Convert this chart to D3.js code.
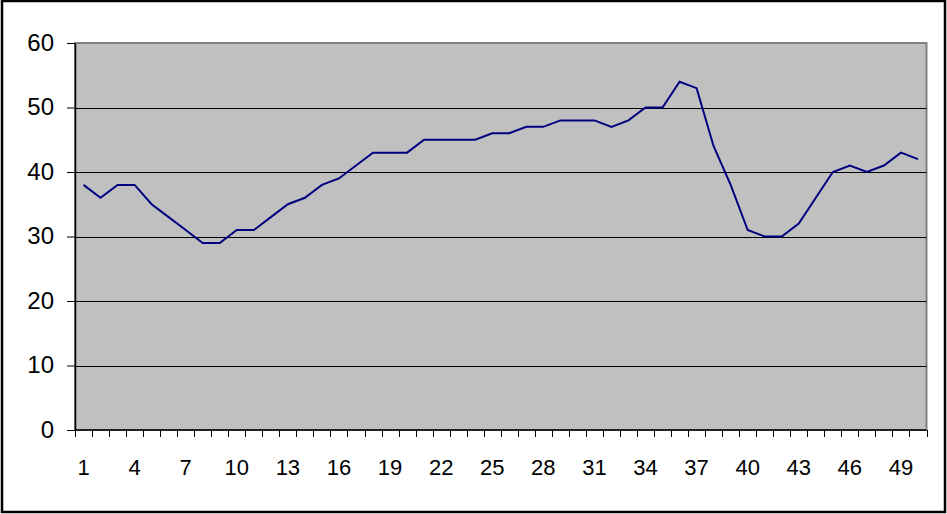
<!DOCTYPE html>
<html>
<head>
<meta charset="utf-8">
<script src="https://cdn.jsdelivr.net/npm/d3@7"></script>
<style>
  body { margin: 0; background: #fff; }
  text { font-family: "Liberation Sans", Arial, sans-serif; }
</style>
</head>
<body>
<div id="chart"></div>
<script>
// Data
var categories = d3.range(1, 51);
var values = [38, 36, 38, 38, 35, 33, 31, 29, 29, 31,
              31, 33, 35, 36, 38, 39, 41, 43, 43, 43,
              45, 45, 45, 45, 46, 46, 47, 47, 48, 48,
              48, 47, 48, 50, 50, 54, 53, 44, 38, 31,
              30, 30, 32, 36, 40, 41, 40, 41, 43, 42];
var yTicks = [0, 10, 20, 30, 40, 50, 60];

// Set the dimensions
var width = 947;
var height = 514;
var plot = {left: 75, top: 43, right: 926.5, bottom: 430};

var svg = d3.select("#chart").append("svg").attr("width", width).attr("height", height);

// Outer chart border
svg.append("rect")
    .attr("x", 2).attr("y", 1)
    .attr("width", 943).attr("height", 511)
    .attr("fill", "#fff")
    .attr("stroke", "#000")
    .attr("stroke-width", 2.5);

var x = d3.scaleBand().domain(categories).range([plot.left, plot.right]);
var y = d3.scaleLinear().domain([0, 60]).range([plot.bottom, plot.top]);

// Plot area
svg.append("rect")
    .attr("x", plot.left).attr("y", plot.top)
    .attr("width", plot.right - plot.left).attr("height", plot.bottom - plot.top)
    .attr("fill", "#c0c0c0")
    .attr("stroke", "#808080")
    .attr("stroke-width", 2);

// Gridlines
svg.append("g")
    .selectAll("line")
    .data(yTicks.filter(function(d) { return d > 0 && d < 60; }))
    .enter().append("line")
    .attr("x1", plot.left).attr("x2", plot.right)
    .attr("y1", function(d) { return Math.round(y(d)) + 0.5; })
    .attr("y2", function(d) { return Math.round(y(d)) + 0.5; })
    .style("stroke", "#000");

// Y axis
var yAxis = svg.append("g")
    .attr("transform", "translate(" + plot.left + ",0)")
    .call(d3.axisLeft(y).tickValues(yTicks).tickSize(8).tickPadding(13).tickSizeOuter(0));
yAxis.attr("font-size", null).attr("font-family", null);
yAxis.select(".domain").attr("stroke", "#000").attr("stroke-width", 1.5);
yAxis.selectAll(".tick line").attr("stroke", "#000");
yAxis.selectAll("text").style("font-size", "24px").attr("fill", "#000").attr("dy", "0.3em");

// X axis: ticks between categories, labels every third category
var boundaries = d3.range(0, categories.length + 1);
var xb = d3.scaleLinear().domain([0, categories.length]).range([plot.left, plot.right]);
var xAxis = svg.append("g").attr("transform", "translate(0," + plot.bottom + ")");
xAxis.append("line")
    .attr("x1", plot.left).attr("x2", plot.right)
    .attr("stroke", "#000").attr("stroke-width", 1.5);
xAxis.selectAll("line.tick")
    .data(boundaries)
    .enter().append("line")
    .attr("class", "tick")
    .attr("x1", function(d) { return Math.round(xb(d)) + 0.5; })
    .attr("x2", function(d) { return Math.round(xb(d)) + 0.5; })
    .attr("y1", 0).attr("y2", 7)
    .attr("stroke", "#000");
xAxis.selectAll("text")
    .data(categories.filter(function(d) { return (d - 1) % 3 === 0; }))
    .enter().append("text")
    .attr("x", function(d) { return x(d) + x.bandwidth() / 2; })
    .attr("y", 45)
    .attr("text-anchor", "middle")
    .style("font-size", "22px")
    .attr("fill", "#000")
    .text(function(d) { return d; });

// Series line
var line = d3.line()
    .x(function(d, i) { return x(categories[i]) + x.bandwidth() / 2; })
    .y(function(d) { return y(d); });

svg.append("path")
    .datum(values)
    .attr("d", line)
    .attr("fill", "none")
    .attr("stroke", "#000080")
    .attr("stroke-width", 2);
</script>
</body>
</html>
